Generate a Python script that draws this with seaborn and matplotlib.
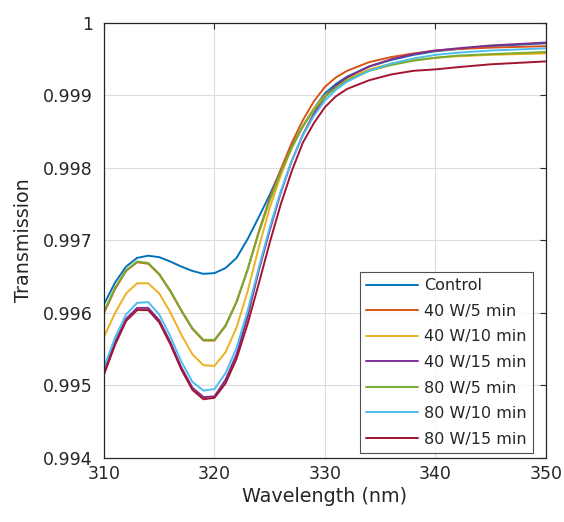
import numpy as np
import pandas as pd
import matplotlib
matplotlib.use("Agg")
import matplotlib.pyplot as plt
import seaborn as sns

wavelength = [310, 311, 312, 313, 314, 315, 316, 317, 318, 319, 320, 321, 322, 323,
              324, 325, 326, 327, 328, 329, 330, 331, 332, 334, 336, 338, 340, 342, 345, 350]

control = [0.99612, 0.99642, 0.99664, 0.99676, 0.99679, 0.99677, 0.99671, 0.99664, 0.99658,
           0.99654, 0.99655, 0.99662, 0.99676, 0.99702, 0.99732, 0.99763, 0.99797, 0.99830,
           0.99858, 0.99882, 0.99903, 0.99916, 0.99926, 0.99940, 0.99949, 0.99956, 0.99961,
           0.99964, 0.99968, 0.99972]
w40_5 = [0.99600, 0.99633, 0.99658, 0.99670, 0.99668, 0.99653, 0.99630, 0.99603, 0.99578,
         0.99562, 0.99562, 0.99582, 0.99615, 0.99660, 0.99712, 0.99758, 0.99798, 0.99835,
         0.99866, 0.99892, 0.99912, 0.99925, 0.99934, 0.99946, 0.99953, 0.99958, 0.99962,
         0.99964, 0.99966, 0.99968]
w40_10 = [0.99567, 0.99600, 0.99627, 0.99641, 0.99641, 0.99627, 0.99601, 0.99570, 0.99543,
          0.99528, 0.99527, 0.99546, 0.99580, 0.99630, 0.99690, 0.99745, 0.99790, 0.99828,
          0.99858, 0.99882, 0.99900, 0.99913, 0.99923, 0.99936, 0.99944, 0.99949, 0.99952,
          0.99954, 0.99956, 0.99958]
w40_15 = [0.99520, 0.99560, 0.99592, 0.99607, 0.99607, 0.99590, 0.99560, 0.99525, 0.99497,
          0.99484, 0.99485, 0.99508, 0.99543, 0.99595, 0.99658, 0.99714, 0.99766, 0.99810,
          0.99846, 0.99875, 0.99898, 0.99914, 0.99925, 0.99940, 0.99950, 0.99957, 0.99962,
          0.99965, 0.99969, 0.99973]
w80_5 = [0.99602, 0.99635, 0.99659, 0.99671, 0.99669, 0.99654, 0.99631, 0.99604, 0.99579,
         0.99563, 0.99563, 0.99583, 0.99616, 0.99660, 0.99710, 0.99755, 0.99794, 0.99828,
         0.99857, 0.99880, 0.99898, 0.99911, 0.99921, 0.99934, 0.99942, 0.99948, 0.99952,
         0.99955, 0.99957, 0.99960]
w80_10 = [0.99525, 0.99566, 0.99598, 0.99614, 0.99615, 0.99598, 0.99568, 0.99533, 0.99505,
          0.99493, 0.99495, 0.99517, 0.99552, 0.99603, 0.99662, 0.99718, 0.99768, 0.99810,
          0.99845, 0.99872, 0.99893, 0.99908, 0.99919, 0.99934, 0.99944, 0.99951, 0.99956,
          0.99959, 0.99962, 0.99965]
w80_15 = [0.99515, 0.99556, 0.99589, 0.99604, 0.99604, 0.99587, 0.99557, 0.99522, 0.99494,
          0.99481, 0.99483, 0.99503, 0.99537, 0.99585, 0.99640, 0.99697, 0.99750, 0.99796,
          0.99835, 0.99862, 0.99884, 0.99899, 0.99909, 0.99921, 0.99929, 0.99934, 0.99936,
          0.99939, 0.99943, 0.99947]

labels = ["Control", "40 W/5 min", "40 W/10 min", "40 W/15 min",
          "80 W/5 min", "80 W/10 min", "80 W/15 min"]
series = [control, w40_5, w40_10, w40_15, w80_5, w80_10, w80_15]
colors = ["#0072BD", "#D95319", "#EDB120", "#7E2F8E", "#77AC30", "#4DBEEE", "#A2142F"]

x_ticks = [310, 320, 330, 340, 350]
y_ticks = [0.994, 0.995, 0.996, 0.997, 0.998, 0.999, 1.0]
y_ticklabels = ["0.994", "0.995", "0.996", "0.997", "0.998", "0.999", "1"]

frames = []
for lab, vals in zip(labels, series):
    frames.append(pd.DataFrame({"Wavelength": wavelength, "Transmission": vals, "Sample": lab}))
df = pd.concat(frames, ignore_index=True)

sns.set_style("white")
plt.rcParams["font.family"] = ["DejaVu Sans"]

fig = plt.figure(figsize=(5.64, 5.22), dpi=100)
ax = fig.add_axes([0.1844, 0.1226, 0.7836, 0.8334])

sns.lineplot(data=df, x="Wavelength", y="Transmission", hue="Sample",
             hue_order=labels, palette=colors, linewidth=1.4, ax=ax,
             sort=True, estimator=None)

ax.set_xlim(310, 350)
ax.set_ylim(0.994, 1.0)
ax.set_xticks(x_ticks)
ax.set_yticks(y_ticks)
ax.set_yticklabels(y_ticklabels)
ax.grid(True, color="#dcdcdc", linewidth=0.8)
ax.set_axisbelow(True)
for s in ax.spines.values():
    s.set_color("#262626")
    s.set_linewidth(0.9)
ax.tick_params(direction="in", length=4, width=0.8, colors="#262626",
               labelsize=12.5, top=True, right=True)
ax.tick_params(axis="y", pad=8)
ax.tick_params(axis="x", pad=5)
ax.set_xlabel("Wavelength (nm)", fontsize=13.8, color="#262626", labelpad=3)
ax.set_ylabel("Transmission", fontsize=13.8, color="#262626", labelpad=7)

leg = ax.legend(loc="lower right", bbox_to_anchor=(0.9706, 0.0115), fontsize=11.5,
                frameon=True, fancybox=False, edgecolor="#262626",
                handlelength=3.25, labelspacing=0.66, borderaxespad=0.0,
                borderpad=0.4, handletextpad=0.35)
leg.get_frame().set_linewidth(0.8)

fig.savefig("out.png", dpi=100)
